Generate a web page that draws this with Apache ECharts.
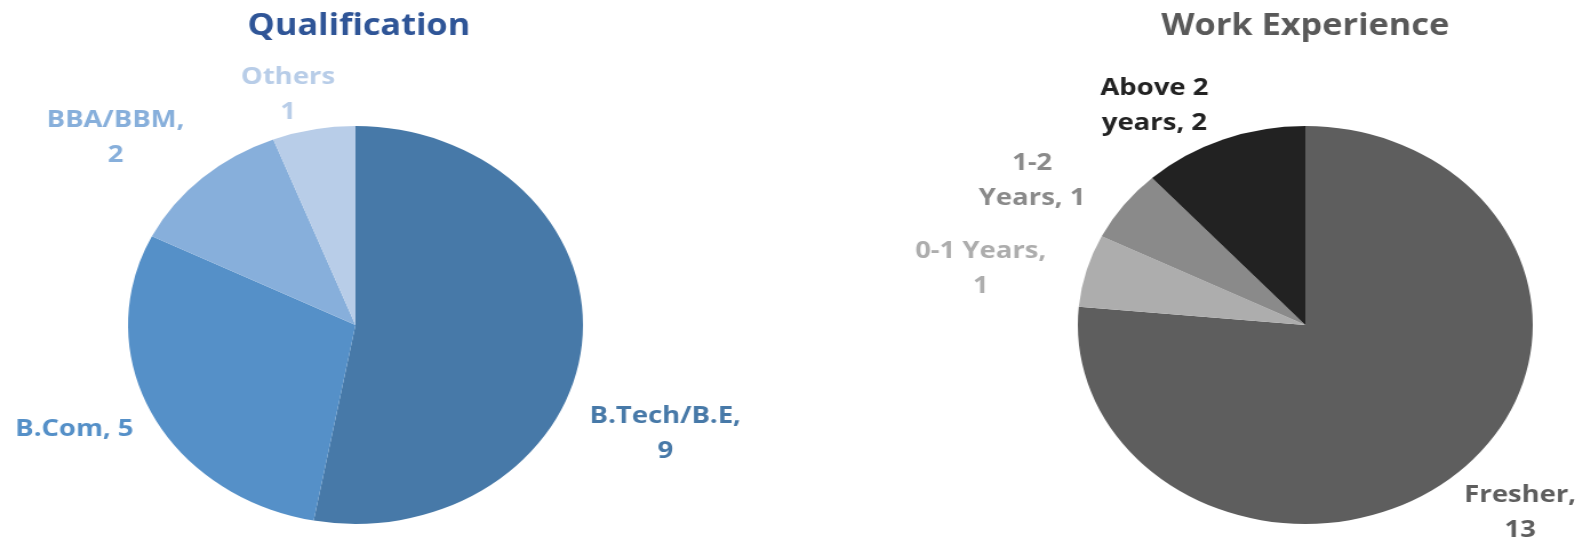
<!DOCTYPE html>
<html>
<head>
<meta charset="utf-8">
<script src="https://cdn.jsdelivr.net/npm/echarts@6/dist/echarts.min.js"></script>
<style>
  html, body { margin: 0; padding: 0; background: #fff; overflow: hidden; }
  /* the source picture is stretched sideways, so the chart is too */
  #main { width: 1387px; height: 544px; transform: scaleX(1.143); transform-origin: 0 0; }
</style>
</head>
<body>
<div id="main"></div>
<script>
// ==============================================================
// data
// ==============================================================
var qualNames = ['B.Tech/B.E', 'B.Com', 'BBA/BBM', 'Others'];
var qualValues = [9, 5, 2, 1];
var qualColors = ['#4779a8', '#5590c8', '#87afdb', '#b8cde8'];
var qualLabels = ['B.Tech/B.E,\n{c}', 'B.Com, {c}', 'BBA/BBM,\n{c}', 'Others\n{c}'];

var workNames = ['Fresher', '0-1 Years', '1-2 Years', 'Above 2 years'];
var workValues = [13, 1, 1, 2];
var workColors = ['#5e5e5e', '#adadad', '#8a8a8a', '#222222'];
var workLabels = ['Fresher,\n{c}', '0-1 Years,\n{c}', '1-2\nYears, {c}', 'Above 2\nyears, {c}'];

// where Excel put the labels (chart pixels, before the stretch)
var qualLabelPos = [[582, 434], [65, 429], [101, 138], [252, 95]];
var workLabelPos = [[1330, 513], [858, 269], [903, 181], [1010, 106]];

function toData(names, values, colors) {
    return names.map(function (n, i) {
        return { name: n, value: values[i], itemStyle: { color: colors[i] }, label: { color: colors[i] } };
    });
}

function pieSeries(center, names, values, colors, labels, pos) {
    return {
        type: 'pie',
        center: center,
        radius: 199,
        startAngle: 90,
        clockwise: true,
        avoidLabelOverlap: false,
        animation: false,
        silent: true,
        itemStyle: { borderWidth: 0 },
        label: {
            show: true,
            position: 'outside',
            fontFamily: 'Open Sans',
            fontWeight: 'bold',
            fontSize: 24,
            lineHeight: 35,
            align: 'center',
            formatter: function (p) {
                return labels[p.dataIndex].replace('{c}', p.value);
            }
        },
        labelLine: { show: false },
        labelLayout: function (p) {
            return { x: pos[p.dataIndex][0], y: pos[p.dataIndex][1], align: 'center', verticalAlign: 'middle' };
        },
        data: toData(names, values, colors)
    };
}

var dom = document.getElementById('main');
var myChart = echarts.init(dom);
var option = {
    backgroundColor: '#ffffff',
    title: [
        {
            text: 'Qualification',
            left: 309, top: 6, textAlign: 'center',
            textStyle: { fontFamily: 'Open Sans', fontWeight: 'bold', fontSize: 30, color: '#2f5597' }
        },
        {
            text: 'Work Experience',
            left: 1137, top: 6, textAlign: 'center',
            textStyle: { fontFamily: 'Open Sans', fontWeight: 'bold', fontSize: 30, color: '#595959' }
        }
    ],
    series: [
        pieSeries([311, 325], qualNames, qualValues, qualColors, qualLabels, qualLabelPos),
        pieSeries([1142, 325], workNames, workValues, workColors, workLabels, workLabelPos)
    ]
};
myChart.setOption(option);
</script>
</body>
</html>
